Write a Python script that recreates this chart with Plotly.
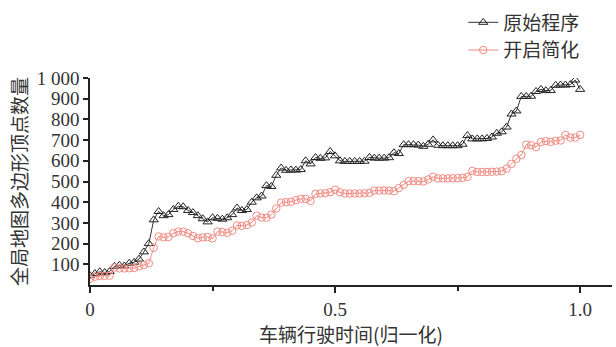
import plotly.graph_objects as go

x_time = [0.00, 0.01, 0.02, 0.03, 0.04, 0.05, 0.06, 0.07, 0.08, 0.09,
          0.10, 0.11, 0.12, 0.13, 0.14, 0.15, 0.16, 0.17, 0.18, 0.19,
          0.20, 0.21, 0.22, 0.23, 0.24, 0.25, 0.26, 0.27, 0.28, 0.29,
          0.30, 0.31, 0.32, 0.33, 0.34, 0.35, 0.36, 0.37, 0.38, 0.39,
          0.40, 0.41, 0.42, 0.43, 0.44, 0.45, 0.46, 0.47, 0.48, 0.49,
          0.50, 0.51, 0.52, 0.53, 0.54, 0.55, 0.56, 0.57, 0.58, 0.59,
          0.60, 0.61, 0.62, 0.63, 0.64, 0.65, 0.66, 0.67, 0.68, 0.69,
          0.70, 0.71, 0.72, 0.73, 0.74, 0.75, 0.76, 0.77, 0.78, 0.79,
          0.80, 0.81, 0.82, 0.83, 0.84, 0.85, 0.86, 0.87, 0.88, 0.89,
          0.90, 0.91, 0.92, 0.93, 0.94, 0.95, 0.96, 0.97, 0.98, 0.99,
          1.00]

original_counts = [45, 55, 64, 60, 65, 90, 95, 92, 105, 110,
                   125, 160, 200, 315, 355, 335, 340, 365, 380, 378,
                   360, 350, 335, 320, 305, 325, 322, 318, 325, 340,
                   372, 360, 365, 400, 421, 430, 480, 476, 530, 565,
                   554, 556, 555, 558, 600, 585, 616, 612, 614, 645,
                   624, 600, 597, 597, 597, 597, 598, 616, 613, 613,
                   613, 615, 639, 635, 678, 678, 678, 676, 670, 680,
                   701, 675, 673, 673, 673, 673, 680, 722, 706, 706,
                   706, 708, 715, 733, 740, 763, 826, 841, 911, 911,
                   912, 935, 945, 939, 940, 965, 966, 966, 968, 990,
                   945]

simplified_counts = [30, 40, 44, 44, 45, 85, 80, 80, 81, 82,
                     90, 96, 105, 180, 235, 230, 232, 250, 258, 258,
                     250, 237, 226, 230, 232, 225, 258, 256, 252, 262,
                     288, 286, 290, 302, 335, 326, 325, 340, 370, 398,
                     400, 402, 410, 416, 416, 406, 440, 442, 444, 448,
                     460, 448, 442, 442, 442, 442, 443, 445, 456, 456,
                     457, 456, 453, 468, 484, 502, 502, 502, 500, 510,
                     523, 515, 515, 515, 516, 516, 518, 522, 551, 546,
                     546, 546, 547, 548, 550, 562, 585, 610, 628, 678,
                     675, 666, 691, 695, 691, 697, 698, 725, 712, 712,
                     725]

series_names = ["原始程序", "开启简化"]
y_tick_vals = [100, 200, 300, 400, 500, 600, 700, 800, 900, 1000]
y_tick_text = ["100", "200", "300", "400", "500", "600", "700", "800", "900", "1 000"]
x_tick_vals = [0, 0.5, 1.0]
x_tick_text = ["0", "0.5", "1.0"]

CJK = "Noto Sans CJK SC"
SERIF = "Liberation Serif"

fig = go.Figure()
fig.add_trace(go.Scatter(
    x=x_time, y=original_counts, name=series_names[0], mode="lines+markers",
    line=dict(color="#333333", width=1),
    marker=dict(symbol="triangle-up-open", size=8, color="#222222", line=dict(width=1)),
))
fig.add_trace(go.Scatter(
    x=x_time, y=simplified_counts, name=series_names[1], mode="lines+markers",
    line=dict(color="#f28b82", width=1),
    marker=dict(symbol="circle-open", size=7.5, color="#f28b82", line=dict(width=1)),
))

fig.update_layout(
    width=616, height=347,
    margin=dict(l=90, r=4, t=71, b=62),
    paper_bgcolor="white", plot_bgcolor="white",
    showlegend=True,
    legend=dict(
        x=0.715, y=1.36, xanchor="left", yanchor="top",
        font=dict(family=CJK, size=19, color="#333333"),
        bgcolor="rgba(0,0,0,0)", tracegroupgap=0, itemwidth=30,
    ),
    xaxis=dict(
        range=[0, 1.065], showgrid=False, zeroline=False,
        showline=True, linecolor="#222222", linewidth=1.5,
        tickmode="array", tickvals=x_tick_vals, ticktext=x_tick_text,
        ticks="outside", ticklen=6, tickcolor="#222222", tickwidth=1.5,
        minor=dict(tickvals=[0.25, 0.75], ticks="outside", ticklen=4, tickcolor="#222222", tickwidth=1.5),
        tickfont=dict(family=SERIF, size=19, color="#333333"),
        title=dict(text="车辆行驶时间(归一化)", font=dict(family=CJK, size=19, color="#333333"), standoff=6),
    ),
    yaxis=dict(
        range=[0, 1000], showgrid=False, zeroline=False,
        showline=True, linecolor="#222222", linewidth=1.5,
        tickmode="array", tickvals=y_tick_vals, ticktext=y_tick_text,
        ticks="outside", ticklen=5, tickcolor="#222222", tickwidth=1.5,
        tickfont=dict(family=SERIF, size=19, color="#333333"),
        title=dict(text="全局地图多边形顶点数量", font=dict(family=CJK, size=19, color="#333333"), standoff=4),
    ),
)

fig.write_html("out.html")
